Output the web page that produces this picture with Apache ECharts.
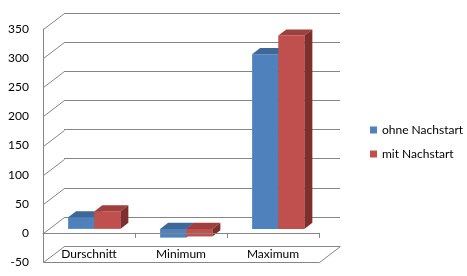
<!DOCTYPE html>
<html><head><meta charset="utf-8">
<script src="https://cdn.jsdelivr.net/npm/echarts@6/dist/echarts.min.js"></script>
<style>html,body{margin:0;padding:0;background:#fff}#c{width:467px;height:276px}</style>
</head><body><div id="c"></div>
<script>
const categories = ['Durschnitt', 'Minimum', 'Maximum'];
const seriesNames = ['ohne Nachstart', 'mit Nachstart'];
const ohneNachstart = [20, -15, 300];
const mitNachstart = [30, -13, 332];
const yTicks = [-50, 0, 50, 100, 150, 200, 250, 300, 350];
const yMin = -50, yMax = 350, yStep = 50;

const DX = 21, DY = -16;           // depth projection of the walls
const BAR_D0 = 0.25, BAR_D = 0.38; // bar depth start / depth size (fraction of wall depth)
const BAR_W = 0.284;               // bar width as fraction of category band
const GRID_COLOR = '#868686';
const FONT = 'Lato';
const palette = [
  {front: '#4F81BD', top: '#3E6898', side: '#34578A'},
  {front: '#C0504D', top: '#A0403D', side: '#7E2F2D'}
];

function barRenderer(si) {
  return function (params, api) {
    const cat = api.value(0), val = api.value(1);
    const bw = api.size([1, 0])[0];
    const w = bw * BAR_W;
    const c = api.coord([cat, 0]);
    const v = api.coord([cat, val]);
    const ox = BAR_D0 * DX, oy = BAR_D0 * DY;
    const bdx = BAR_D * DX, bdy = BAR_D * DY;
    const x0 = c[0] - w + si * w + ox, x1 = x0 + w;
    const yt = Math.min(c[1], v[1]) + oy, yb = Math.max(c[1], v[1]) + oy;
    const col = palette[si];
    return {type: 'group', children: [
      {type: 'polygon', shape: {points: [[x0, yt], [x1, yt], [x1, yb], [x0, yb]]}, style: {fill: col.front}},
      {type: 'polygon', shape: {points: [[x0, yt], [x1, yt], [x1 + bdx, yt + bdy], [x0 + bdx, yt + bdy]]}, style: {fill: col.top}},
      {type: 'polygon', shape: {points: [[x1, yt], [x1 + bdx, yt + bdy], [x1 + bdx, yb + bdy], [x1, yb]]}, style: {fill: col.side}}
    ]};
  };
}

function frameRenderer(params, api) {
  const v = api.value(1);
  const cs = params.coordSys;
  const y = Math.round(api.coord([0, v])[1]) + 0.5;
  const xl = Math.round(cs.x) + 0.5, xr = Math.round(cs.x + cs.width) + 0.5;
  const children = [
    {type: 'line', shape: {x1: xl, y1: y, x2: xl + DX, y2: y + DY}, style: {stroke: GRID_COLOR, lineWidth: 1}}
  ];
  if (v === yMin) {
    children.push({type: 'polyline', shape: {points: [[xl, y], [xr, y], [xr + DX, y + DY]]},
      style: {stroke: GRID_COLOR, fill: null, lineWidth: 1}});
  }
  return {type: 'group', children: children};
}

const chart = echarts.init(document.getElementById('c'), null, {renderer: 'canvas'});
chart.setOption({
  animation: false,
  backgroundColor: '#fff',
  textStyle: {fontFamily: FONT},
  legend: {
    data: seriesNames, orient: 'vertical', left: 365, top: 118,
    icon: 'rect', itemWidth: 7, itemHeight: 7, itemGap: 10,
    textStyle: {fontSize: 12, fontFamily: FONT, color: '#000', lineHeight: 14}
  },
  grid: [
    {left: 43, top: 29, width: 276, height: 233, containLabel: false, outerBoundsMode: 'none'},
    {left: 64, top: 13, width: 276, height: 233, containLabel: false, outerBoundsMode: 'none'}
  ],
  xAxis: [
    {type: 'category', gridIndex: 0, data: categories, z: 5,
      axisLine: {onZero: true, lineStyle: {color: GRID_COLOR}},
      axisTick: {show: true, length: 5, lineStyle: {color: GRID_COLOR}},
      axisLabel: {margin: -14, fontSize: 12, color: '#000', fontFamily: FONT},
      splitLine: {show: false}},
    {type: 'category', gridIndex: 1, data: categories, show: false}
  ],
  yAxis: [
    {type: 'value', gridIndex: 0, min: yMin, max: yMax, interval: yStep,
      axisLine: {show: true, lineStyle: {color: GRID_COLOR}},
      axisTick: {show: false},
      axisLabel: {margin: 14, fontSize: 12, color: '#000', fontFamily: FONT},
      splitLine: {show: false}},
    {type: 'value', gridIndex: 1, min: yMin, max: yMax, interval: yStep,
      axisLine: {show: false}, axisTick: {show: false}, axisLabel: {show: false},
      splitLine: {show: true, lineStyle: {color: GRID_COLOR, width: 1}}}
  ],
  series: [
    {type: 'custom', name: '_frame', xAxisIndex: 0, yAxisIndex: 0, z: 1, silent: true,
      renderItem: frameRenderer, data: yTicks.map(function (t) { return [0, t]; })},
    {type: 'custom', name: seriesNames[0], xAxisIndex: 0, yAxisIndex: 0, z: 2,
      itemStyle: {color: palette[0].front},
      renderItem: barRenderer(0), data: ohneNachstart.map(function (v, i) { return [i, v]; })},
    {type: 'custom', name: seriesNames[1], xAxisIndex: 0, yAxisIndex: 0, z: 2,
      itemStyle: {color: palette[1].front},
      renderItem: barRenderer(1), data: mitNachstart.map(function (v, i) { return [i, v]; })}
  ]
});
</script>
</body></html>
